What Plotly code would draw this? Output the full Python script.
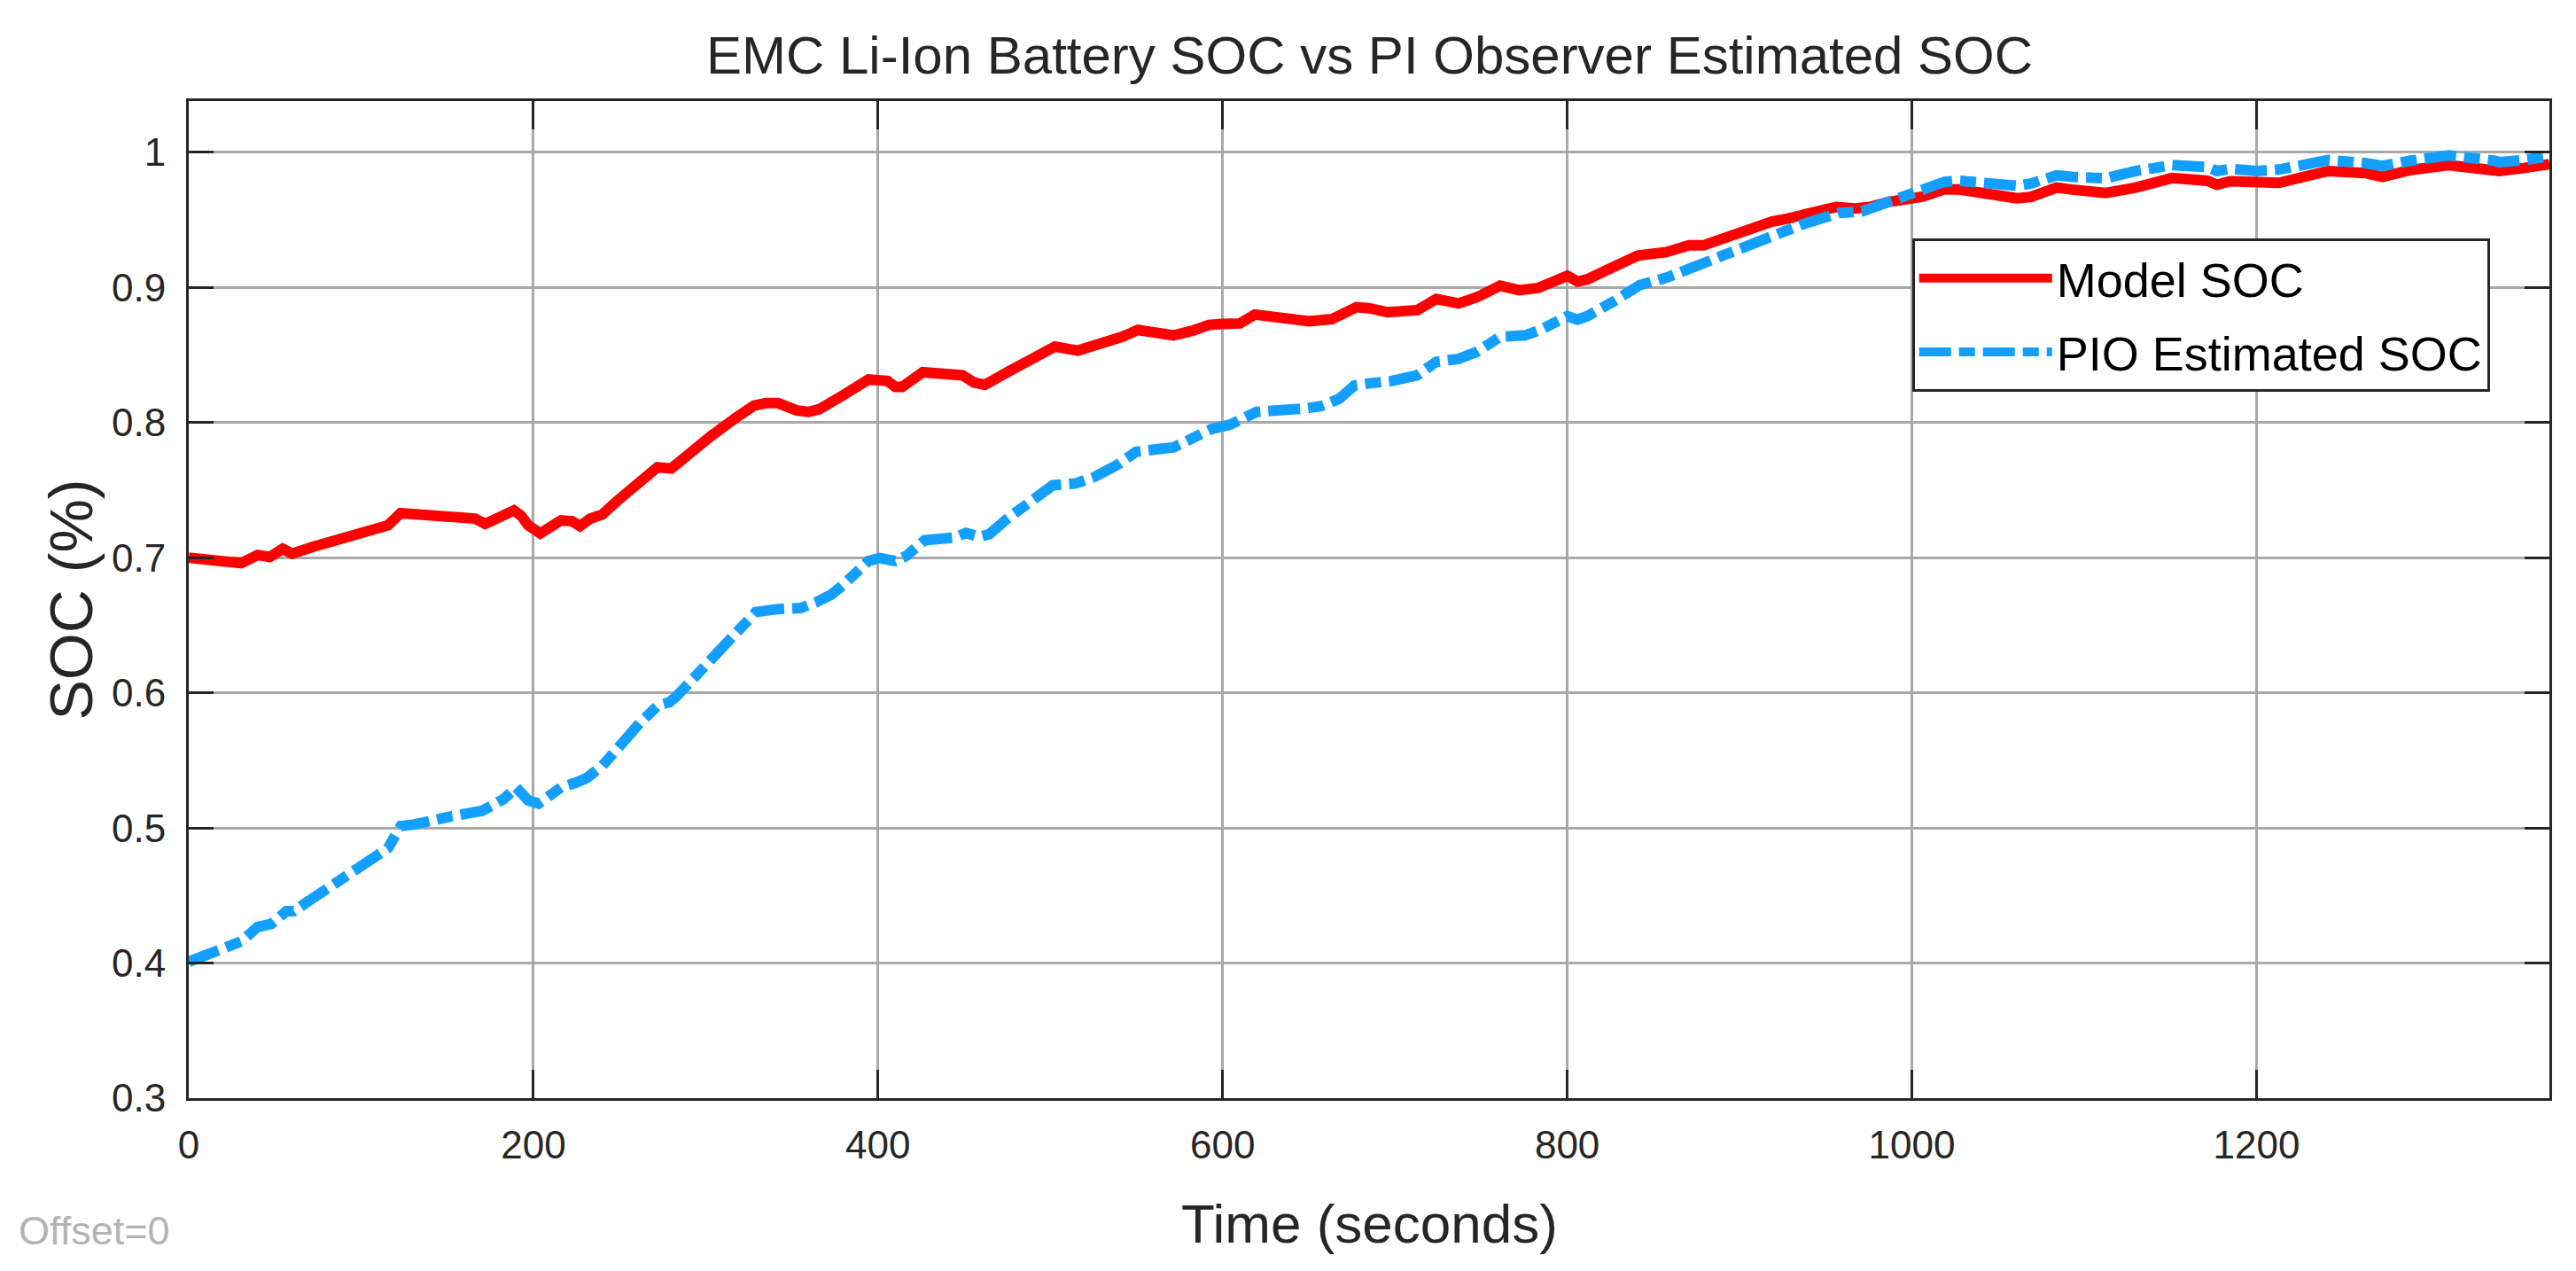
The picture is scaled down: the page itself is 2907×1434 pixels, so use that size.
import plotly.graph_objects as go

# Model SOC (red, solid)
model_time = [0, 24, 30.5, 40, 47, 54.5, 60, 72, 83, 91.6, 100, 111, 115.6, 123, 166, 172, 179, 183,
              188.7, 193, 197, 204, 216, 222.5, 227, 233, 240, 248.6, 257, 265, 272, 280, 290, 303,
              318, 328, 335, 342, 353, 359.6, 366, 370.5, 380, 394.5, 405.5, 410, 414, 426, 449,
              455.7, 462, 475, 490.7, 502.7, 516, 523.5, 536.6, 542, 550.8, 571.6, 582.5, 592, 600,
              607.6, 610, 618.7, 646, 650, 663.4, 670, 677.6, 684.8, 695.7, 713, 724, 737, 748, 761,
              772, 783, 800, 806, 811.6, 827, 841, 857.5, 870.6, 879, 891, 918.7, 927.4, 942.7, 956,
              966.8, 975.5, 986.4, 1006, 1019, 1027.5, 1051, 1061, 1069, 1084, 1093, 1106, 1112.6,
              1130, 1151, 1171.6, 1177, 1184.7, 1200, 1213, 1241.5, 1263, 1273, 1289.6, 1311.5,
              1337.7, 1341, 1355, 1370]
model_soc = [0.700, 0.6967, 0.696, 0.702, 0.7005, 0.7066, 0.703, 0.708, 0.712, 0.715, 0.719, 0.723,
             0.724, 0.733, 0.729, 0.725, 0.729, 0.730, 0.735, 0.731, 0.724, 0.718, 0.7276, 0.727,
             0.7234, 0.729, 0.732, 0.742, 0.751, 0.760, 0.767, 0.766, 0.777, 0.790, 0.804, 0.8125,
             0.8144, 0.8144, 0.809, 0.8079, 0.810, 0.8127, 0.8205, 0.8319, 0.8308, 0.8264, 0.8264,
             0.8373, 0.835, 0.8297, 0.828, 0.8373, 0.8472, 0.8563, 0.8533, 0.856, 0.8614, 0.8636,
             0.8686, 0.8646, 0.868, 0.8723, 0.873, 0.8745, 0.8734, 0.880, 0.8773, 0.875, 0.8766,
             0.880, 0.8854, 0.8847, 0.8817, 0.8832, 0.8915, 0.8882, 0.893, 0.9013, 0.898, 0.8996,
             0.9087, 0.9044, 0.906, 0.9153, 0.9236, 0.9262, 0.9312, 0.9312, 0.9371, 0.9487, 0.9509,
             0.9563, 0.9596, 0.9585, 0.9596, 0.9633, 0.9672, 0.9727, 0.9725, 0.968, 0.966, 0.967,
             0.974, 0.9725, 0.971, 0.970, 0.974, 0.981, 0.979, 0.976, 0.9786, 0.977, 0.9775, 0.9862,
             0.9847, 0.9819, 0.987, 0.9906, 0.9878, 0.9862, 0.9884, 0.9913]

# PI observer estimate (blue, dash-dot)
pio_time = [0, 13, 24, 30.5, 40, 48, 56.7, 61, 72, 78.5, 91.6, 102.5, 111, 115.6, 123, 131, 152.7,
            170, 176.7, 183, 190, 197, 203, 209, 216, 224.6, 231, 240, 251, 262, 272.6, 279, 283.5,
            296.6, 309.7, 320.6, 329, 342, 355, 364, 372.7, 379, 394.5, 401, 410, 416.4, 427, 444.8,
            451, 459, 464.5, 475.4, 490.7, 501.6, 514.8, 525.7, 538.8, 549.7, 571.6, 582.5, 593.4,
            604.4, 611, 619.7, 648, 657, 667.8, 676.5, 684.8, 698, 713, 724, 737, 748, 761, 775.6,
            785, 800, 806, 811.6, 827, 842, 857.5, 868, 879, 892.5, 918.7, 936, 947, 958, 971, 988.6,
            1001.7, 1019, 1027.5, 1051, 1061, 1069, 1084, 1093, 1106, 1112.6, 1130, 1151, 1171.6,
            1177, 1184.7, 1200, 1213, 1241.5, 1263, 1273, 1289.6, 1311.5, 1337.7, 1341, 1355, 1370]
pio_soc = [0.401, 0.4075, 0.4115, 0.416, 0.4267, 0.429, 0.4384, 0.4384, 0.448, 0.4536, 0.4653, 0.476,
           0.4815, 0.485, 0.5014, 0.5026, 0.5087, 0.5126, 0.5169, 0.5216, 0.530, 0.5204, 0.518, 0.524,
           0.530, 0.5335, 0.537, 0.546, 0.5625, 0.578, 0.591, 0.593, 0.598, 0.6164, 0.635, 0.650,
           0.6597, 0.662, 0.6627, 0.667, 0.6725, 0.679, 0.6976, 0.6998, 0.6976, 0.7013, 0.7129, 0.715,
           0.7183, 0.7155, 0.7173, 0.7293, 0.7434, 0.7537, 0.755, 0.7598, 0.7686, 0.7784, 0.7817,
           0.7876, 0.7952, 0.7985, 0.8024, 0.8079, 0.8105, 0.8122, 0.8177, 0.8275, 0.829, 0.8308,
           0.8351, 0.845, 0.8472, 0.8526, 0.8635, 0.8646, 0.869, 0.8788, 0.8762, 0.8788, 0.8897,
           0.9017, 0.9072, 0.9127, 0.9166, 0.9236, 0.9389, 0.9465, 0.9509, 0.9552, 0.9563, 0.965,
           0.9716, 0.9782, 0.979, 0.9775, 0.9753, 0.9769, 0.983, 0.9819, 0.9808, 0.9808, 0.9862,
           0.9906, 0.9891, 0.9862, 0.9878, 0.9862, 0.9873, 0.9943, 0.9921, 0.990, 0.9939, 0.9978,
           0.9939, 0.9928, 0.9943, 0.9972]

x_ticks = [0, 200, 400, 600, 800, 1000, 1200]
y_ticks = [0.3, 0.4, 0.5, 0.6, 0.7, 0.8, 0.9, 1.0]
y_tick_text = ["0.3", "0.4", "0.5", "0.6", "0.7", "0.8", "0.9", "1"]

# no narrow font in the sandbox, so sizes are trimmed to keep the text widths close
FONT = "Liberation Sans, Arial, sans-serif"
AXIS_COL = "#262626"

fig = go.Figure()
fig.add_trace(go.Scatter(x=model_time, y=model_soc, mode="lines", name="Model SOC",
                         legendgroup="a", line=dict(color="#ff0000", width=12)))
fig.add_trace(go.Scatter(x=pio_time, y=pio_soc, mode="lines", name="PIO Estimated SOC",
                         legendgroup="b", line=dict(color="#139fff", width=12, dash="36px,9px,18px,9px")))

axis_common = dict(showline=True, linecolor=AXIS_COL, linewidth=3, mirror="ticks",
                   ticks="inside", tickcolor=AXIS_COL, tickwidth=2.5,
                   showgrid=True, gridcolor="#a9a9a9", gridwidth=2.5, zeroline=False,
                   tickfont=dict(family=FONT, size=44, color=AXIS_COL))

fig.update_layout(
    width=2907, height=1434,
    margin=dict(l=205, r=38, t=106, b=203),
    paper_bgcolor="white", plot_bgcolor="white",
    xaxis=dict(range=[0, 1370], tickvals=x_ticks, ticklen=32, ticklabelstandoff=12, **axis_common),
    yaxis=dict(range=[0.3, 1.038], tickvals=y_ticks, ticktext=y_tick_text, ticklen=28,
               ticklabelstandoff=14, **axis_common),
    legend=dict(x=0.730, y=0.862, xanchor="left", yanchor="top",
                bgcolor="white", bordercolor=AXIS_COL, borderwidth=3,
                traceorder="grouped", tracegroupgap=10,
                font=dict(family=FONT, size=54, color="black"), itemwidth=150),
    showlegend=True,
)

# titles as annotations so they sit where the reference puts them
fig.add_annotation(text="EMC Li-Ion Battery SOC vs PI Observer Estimated SOC", xref="paper", yref="paper",
                   x=0.5, y=1.0459, xanchor="center", yanchor="middle", showarrow=False,
                   font=dict(family=FONT, size=60, color=AXIS_COL))
fig.add_annotation(text="Time (seconds)", xref="paper", yref="paper",
                   x=0.5, y=-0.1258, xanchor="center", yanchor="middle", showarrow=False,
                   font=dict(family=FONT, size=62, color=AXIS_COL))
fig.add_annotation(text="SOC (%)", xref="paper", yref="paper", textangle=-90,
                   x=-0.0503, y=0.5, xanchor="center", yanchor="middle", showarrow=False,
                   font=dict(family=FONT, size=68, color=AXIS_COL))
fig.add_annotation(text="Offset=0", xref="paper", yref="paper",
                   x=-0.073, y=-0.1333, xanchor="left", yanchor="middle", showarrow=False,
                   font=dict(family=FONT, size=45, color="#b3b3b3"))

fig.write_html("out.html")
